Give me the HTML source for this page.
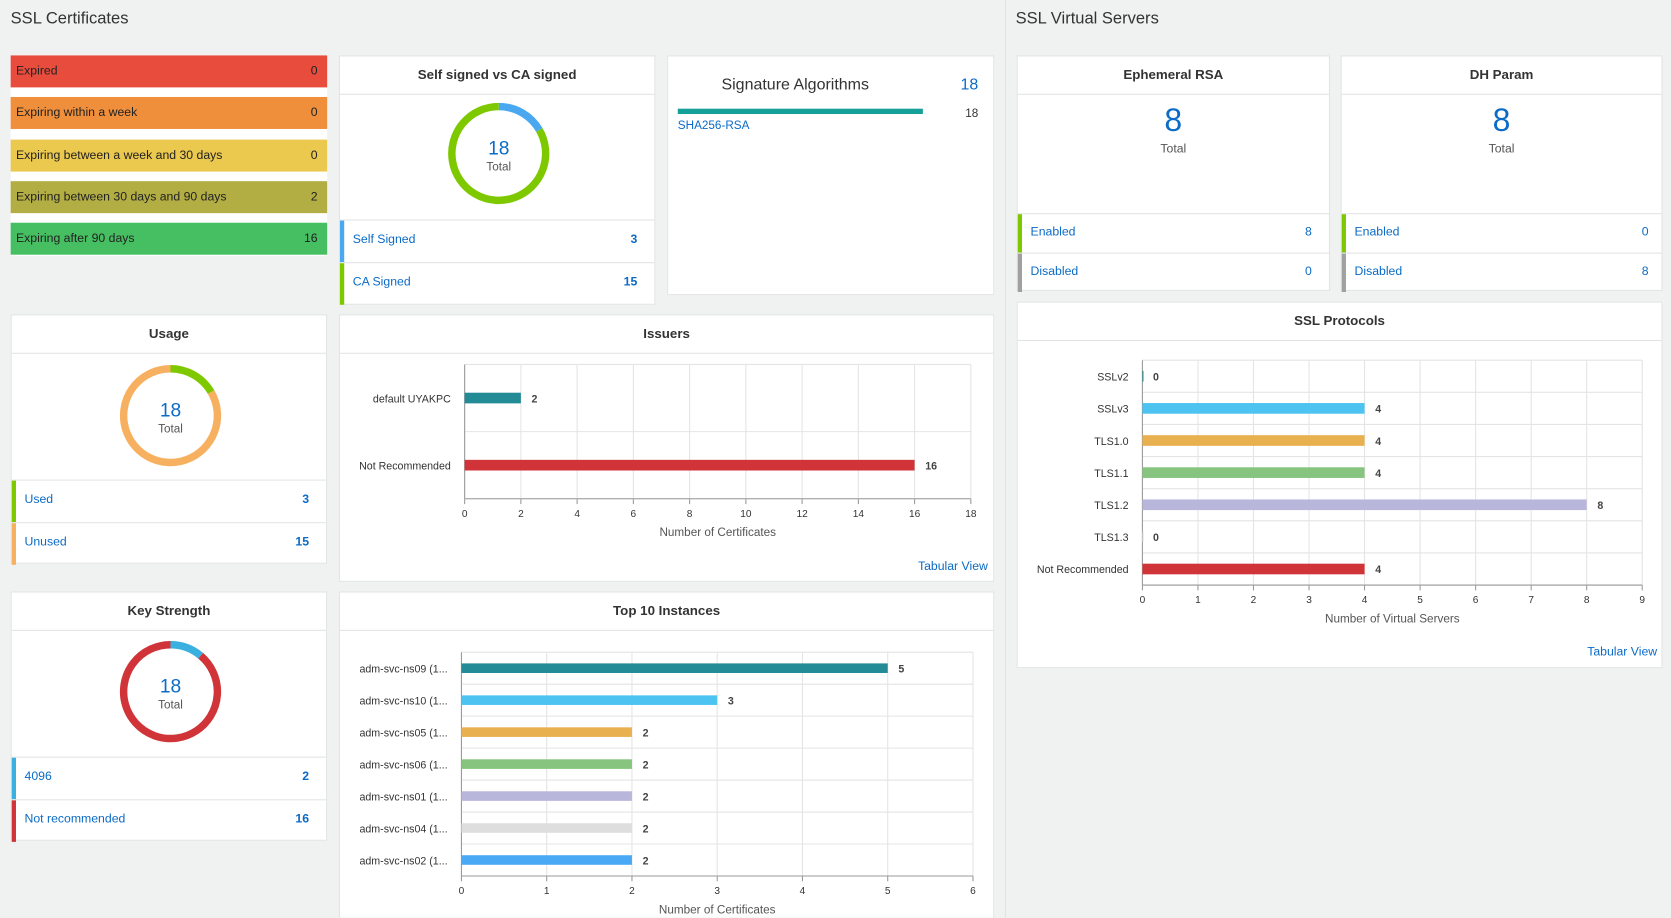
<!DOCTYPE html>
<html><head><meta charset="utf-8">
<style>
html,body{margin:0;padding:0;width:1671px;height:918px;overflow:hidden;background:#f0f1f1;font-family:"Liberation Sans",sans-serif;}
#wrap{position:absolute;left:0;top:0;width:1568px;height:861px;overflow:hidden;transform:scale(1.06569);transform-origin:0 0;}
.abs{position:absolute;}
.card{position:absolute;background:#fff;border:1px solid #e2e4e4;box-sizing:border-box;}
.hdr{position:absolute;left:0;right:0;top:0;height:35px;border-bottom:1px solid #e2e4e4;text-align:center;line-height:35px;font-size:12.5px;font-weight:bold;color:#333;}
.sect{position:absolute;font-size:15.5px;color:#333;}
.st{position:absolute;left:10px;width:297px;height:30px;line-height:30px;font-size:11.5px;color:#222;box-sizing:border-box;padding:0 9px 0 5px;}
.st span{float:right;}
.row{position:absolute;left:0;right:0;border-top:1px solid #e2e4e4;font-size:11.5px;color:#0b6bc6;box-sizing:border-box;}
.row .bar{position:absolute;left:0;top:0;bottom:0;width:4px;}
.row .l{position:absolute;left:12px;}
.row .v{position:absolute;right:16px;font-weight:bold;}
.link{position:absolute;font-size:11.5px;color:#0b6bc6;}
svg text{font-family:"Liberation Sans",sans-serif;}
</style></head><body>
<div id="wrap">
<div class="abs" style="left:943px;top:0;width:1px;height:900px;background:#e2e4e4"></div>
<div class="sect" style="left:10px;top:9px">SSL Certificates</div>
<div class="sect" style="left:953px;top:9px">SSL Virtual Servers</div>

<div class="abs" style="left:10px;top:52px;width:297px;height:188px;background:#fff"></div>
<div class="st" style="top:52px;background:#e84c3d">Expired<span>0</span></div>
<div class="st" style="top:91px;background:#ef8f3b">Expiring within a week<span>0</span></div>
<div class="st" style="top:131px;background:#ebc84e">Expiring between a week and 30 days<span>0</span></div>
<div class="st" style="top:170px;background:#b3ae44">Expiring between 30 days and 90 days<span>2</span></div>
<div class="st" style="top:209px;background:#46bf62">Expiring after 90 days<span>16</span></div>

<div class="card" style="left:318px;top:52px;width:297px;height:234px">
 <div class="hdr">Self signed vs CA signed</div>
 <svg class="abs" style="left:0;top:0" width="297" height="234" id="d1"></svg>
 <div class="row" style="top:153px;height:40px;line-height:36px"><div class="bar" style="background:#4aa8f0"></div><span class="l">Self Signed</span><span class="v">3</span></div>
 <div class="row" style="top:193px;height:40px;line-height:36px"><div class="bar" style="background:#7ec800"></div><span class="l">CA Signed</span><span class="v">15</span></div>
</div>

<div class="card" style="left:626px;top:52px;width:307px;height:225px">
 <div class="abs" style="left:50px;top:18px;font-size:15px;color:#333">Signature Algorithms</div>
 <div class="abs" style="right:14px;top:18px;font-size:15px;color:#0b6bc6">18</div>
 <div class="abs" style="left:9px;top:49px;width:230px;height:5px;background:#15a09a"></div>
 <div class="abs" style="right:14px;top:48px;font-size:11px;color:#333">18</div>
 <div class="link" style="left:9px;top:59px;font-size:11px">SHA256-RSA</div>
</div>

<div class="card" style="left:10px;top:295px;width:297px;height:234px">
 <div class="hdr">Usage</div>
 <svg class="abs" style="left:0;top:0" width="297" height="234" id="d2"></svg>
 <div class="row" style="top:154px;height:40px;line-height:36px"><div class="bar" style="background:#7ec800"></div><span class="l">Used</span><span class="v">3</span></div>
 <div class="row" style="top:194px;height:40px;line-height:36px"><div class="bar" style="background:#f7b060"></div><span class="l">Unused</span><span class="v">15</span></div>
</div>

<div class="card" style="left:10px;top:555px;width:297px;height:234px">
 <div class="hdr">Key Strength</div>
 <svg class="abs" style="left:0;top:0" width="297" height="234" id="d3"></svg>
 <div class="row" style="top:154px;height:40px;line-height:36px"><div class="bar" style="background:#3ab0e0"></div><span class="l">4096</span><span class="v">2</span></div>
 <div class="row" style="top:194px;height:40px;line-height:36px"><div class="bar" style="background:#d13438"></div><span class="l">Not recommended</span><span class="v">16</span></div>
</div>

<div class="card" style="left:318px;top:295px;width:615px;height:251px">
 <div class="hdr">Issuers</div>
 <svg class="abs" style="left:0;top:0" width="615" height="251" id="c1"></svg>
 <div class="link" style="right:5px;top:230px">Tabular View</div>
</div>

<div class="card" style="left:318px;top:555px;width:615px;height:310px">
 <div class="hdr">Top 10 Instances</div>
 <svg class="abs" style="left:0;top:0" width="615" height="310" id="c2"></svg>
</div>

<div class="card" style="left:954px;top:52px;width:294px;height:221px">
 <div class="hdr">Ephemeral RSA</div>
 <div class="abs" style="left:0;right:0;top:44px;text-align:center;font-size:30px;color:#0b6bc6">8</div>
 <div class="abs" style="left:0;right:0;top:81px;text-align:center;font-size:11.5px;color:#555">Total</div>
 <div class="row" style="top:147px;height:37px;line-height:34px"><div class="bar" style="background:#7ec800"></div><span class="l">Enabled</span><span class="v" style="font-weight:normal">8</span></div>
 <div class="row" style="top:184px;height:37px;line-height:34px"><div class="bar" style="background:#a0a0a0"></div><span class="l">Disabled</span><span class="v" style="font-weight:normal">0</span></div>
</div>

<div class="card" style="left:1258px;top:52px;width:302px;height:221px">
 <div class="hdr">DH Param</div>
 <div class="abs" style="left:0;right:0;top:44px;text-align:center;font-size:30px;color:#0b6bc6">8</div>
 <div class="abs" style="left:0;right:0;top:81px;text-align:center;font-size:11.5px;color:#555">Total</div>
 <div class="row" style="top:147px;height:37px;line-height:34px"><div class="bar" style="background:#7ec800"></div><span class="l">Enabled</span><span class="v" style="font-weight:normal;right:12px">0</span></div>
 <div class="row" style="top:184px;height:37px;line-height:34px"><div class="bar" style="background:#a0a0a0"></div><span class="l">Disabled</span><span class="v" style="font-weight:normal;right:12px">8</span></div>
</div>

<div class="card" style="left:954px;top:283px;width:606px;height:344px">
 <div class="hdr">SSL Protocols</div>
 <svg class="abs" style="left:0;top:0" width="606" height="344" id="c3"></svg>
 <div class="link" style="right:4px;top:322px">Tabular View</div>
</div>
</div>

<script>
const selfSignedValues = [3, 15];
const usageValues = [3, 15];
const keyStrengthValues = [2, 16];
const issuerCategories = ["default UYAKPC", "Not Recommended"];
const issuerValues = [2, 16];
const issuerTicks = [0,2,4,6,8,10,12,14,16,18];
const instanceCategories = ["adm-svc-ns09 (1...","adm-svc-ns10 (1...","adm-svc-ns05 (1...","adm-svc-ns06 (1...","adm-svc-ns01 (1...","adm-svc-ns04 (1...","adm-svc-ns02 (1..."];
const instanceValues = [5,3,2,2,2,2,2];
const instanceTicks = [0,1,2,3,4,5,6];
const protocolCategories = ["SSLv2","SSLv3","TLS1.0","TLS1.1","TLS1.2","TLS1.3","Not Recommended"];
const protocolValues = [0,4,4,4,8,0,4];
const protocolTicks = [0,1,2,3,4,5,6,7,8,9];

const NS="http://www.w3.org/2000/svg";
function mk(parent,tag,attrs){const e=document.createElementNS(NS,tag);for(const k in attrs)e.setAttribute(k,attrs[k]);parent.appendChild(e);return e;}

function donut(id,cx,cy,vals,colors,name){
  const svg=document.getElementById(id);const r=44,w=7;const tot=vals.reduce((a,b)=>a+b,0);
  let a0=-Math.PI/2;
  vals.forEach((v,i)=>{
    const a1=a0+v/tot*2*Math.PI;
    const large=(a1-a0)>Math.PI?1:0;
    const p=mk(svg,'path',{d:`M${cx+r*Math.cos(a0)} ${cy+r*Math.sin(a0)} A${r} ${r} 0 ${large} 1 ${cx+r*Math.cos(a1)} ${cy+r*Math.sin(a1)}`,fill:'none',stroke:colors[i],'stroke-width':w});
    
    
    a0=a1;
  });
  const t=mk(svg,'text',{x:cx,y:cy+1,'text-anchor':'middle','font-size':18,fill:'#0b6bc6'});t.textContent=tot;
  
  
  const t2=mk(svg,'text',{x:cx,y:cy+16,'text-anchor':'middle','font-size':11,fill:'#555'});t2.textContent='Total';
  
  
}
donut('d1',149,91,selfSignedValues,['#4aa8f0','#7ec800'],'self-signed');
donut('d2',149,94,usageValues,['#7ec800','#f7b060'],'usage');
donut('d3',149,93,keyStrengthValues,['#3ab0e0','#d13438'],'key-strength');

function hbar(id,o){
  const svg=document.getElementById(id);
  const {x0,x1,y0,y1,cats,vals,ticks,colors,bh,label,name}=o;
  const max=ticks[ticks.length-1];
  const xs=v=>x0+(x1-x0)*v/max;
  const band=(y1-y0)/cats.length;
  ticks.forEach(t=>{
    const l=mk(svg,'line',{x1:xs(t),x2:xs(t),y1:y0,y2:y1,stroke:'#e4e4e4'});
    
    
    mk(svg,'line',{x1:xs(t),x2:xs(t),y1:y1,y2:y1+5,stroke:'#999'});
    const tx=mk(svg,'text',{x:xs(t),y:y1+17,'text-anchor':'middle','font-size':9.5,fill:'#333'});tx.textContent=t;
    
    
  });
  for(let i=0;i<=cats.length;i++) mk(svg,'line',{x1:x0,x2:x1,y1:y0+band*i,y2:y0+band*i,stroke:'#e4e4e4'});
  mk(svg,'line',{x1:x0,x2:x0,y1:y0,y2:y1,stroke:'#999'});
  mk(svg,'line',{x1:x0,x2:x1,y1:y1,y2:y1,stroke:'#999'});
  cats.forEach((c,i)=>{
    const cy=y0+band*(i+0.5);
    const lt=mk(svg,'text',{x:x0-13,y:cy+4,'text-anchor':'end','font-size':10,fill:'#333'});lt.textContent=c;
    
    
    const w=Math.max(xs(vals[i])-x0,1);
    const r=mk(svg,'rect',{x:x0,y:cy-bh/2,width:w,height:bh,fill:colors[i]});
    
    
    const vt=mk(svg,'text',{x:xs(vals[i])+10,y:cy+4,'font-size':10,'font-weight':'bold',fill:'#444'});vt.textContent=vals[i];
    
    
  });
  const xl=mk(svg,'text',{x:(x0+x1)/2,y:y1+35,'text-anchor':'middle','font-size':11,fill:'#555'});xl.textContent=label;
  
  
}
hbar('c1',{x0:117,x1:592,y0:46,y1:172,cats:issuerCategories,vals:issuerValues,ticks:issuerTicks,colors:['#238b96','#d13438'],bh:10,label:'Number of Certificates',name:'issuer'});
hbar('c2',{x0:114,x1:594,y0:56,y1:266,cats:instanceCategories,vals:instanceValues,ticks:instanceTicks,colors:['#238b96','#4cc3f0','#e9b04f','#86c47f','#b9b6dc','#dedede','#49a9f5'],bh:9,label:'Number of Certificates',name:'instance'});
hbar('c3',{x0:117,x1:586,y0:54,y1:265,cats:protocolCategories,vals:protocolValues,ticks:protocolTicks,colors:['#238b96','#4cc3f0','#e9b04f','#86c47f','#b9b6dc','#dedede','#d13438'],bh:10,label:'Number of Virtual Servers',name:'protocol'});
</script>
</body></html>
